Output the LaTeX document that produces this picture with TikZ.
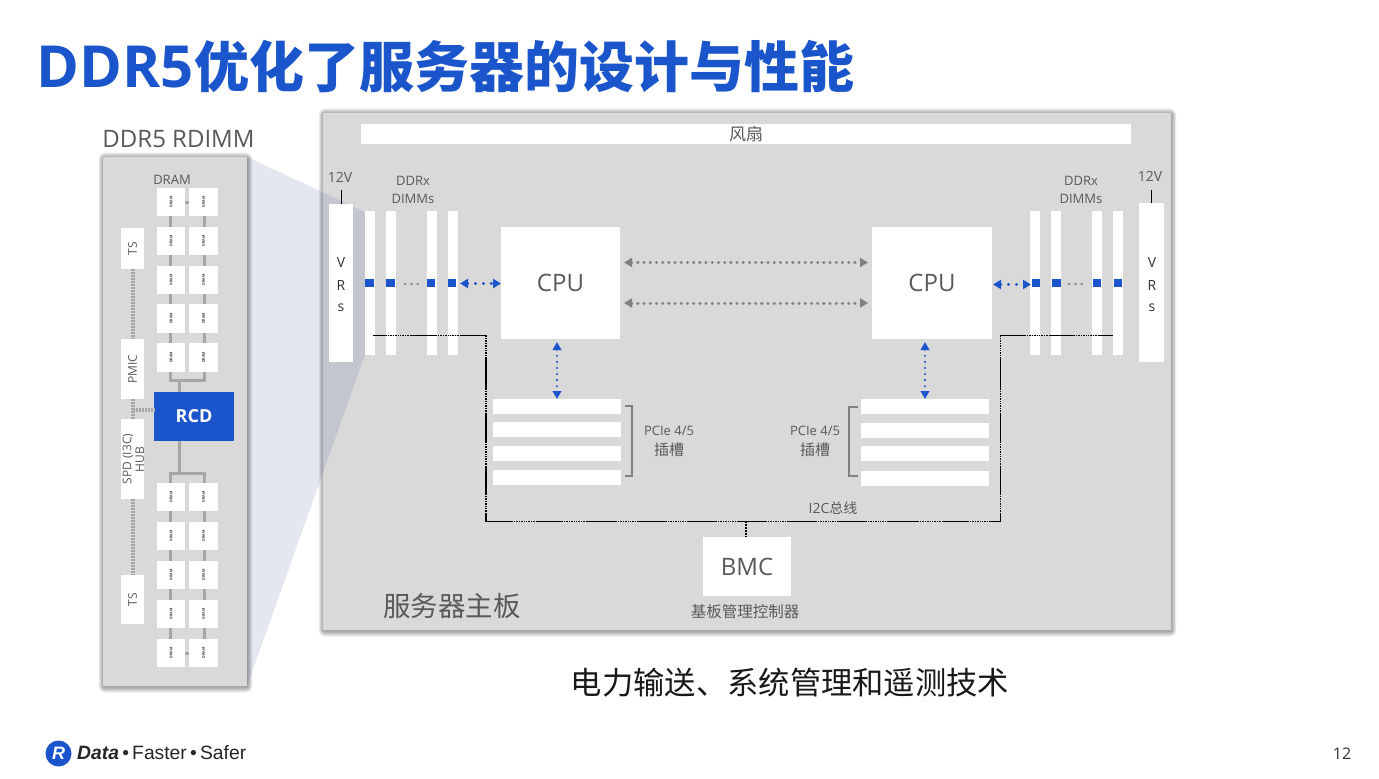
\documentclass[tikz,border=0pt]{standalone}
\usepackage{fontspec}
\setmainfont{Open Sans}
\newfontfamily\cjk{Noto Sans CJK SC}
\newfontfamily\logofont{Liberation Sans}
\usetikzlibrary{arrows.meta}
\definecolor{panel}{HTML}{D9D9D9}
\definecolor{txt}{HTML}{595959}
\definecolor{blu}{HTML}{1B55CB}
\definecolor{lin}{HTML}{A6A6A6}
\definecolor{zoomc}{RGB}{47,70,140}
\tikzset{
  x=1pt,y=-1pt,
  boxs/.style={fill=white,draw=none,inner sep=0pt,outer sep=0pt,text=txt,align=center},
  lab/.style={inner sep=0pt,text=txt,align=center},
  wire/.style={line width=3pt,draw=lin},
  spd/.style={line width=3.6pt,draw=lin,dash pattern=on 2pt off 1pt},
  bus/.style={line width=1.2pt,draw=black},
  busgap/.style={line width=1.4pt,draw=panel,dash pattern=on 1pt off 1.4pt},
  bluearrow/.style={draw=blu,line width=3pt,line cap=round,dash pattern=on .3pt off 7.6pt,
     {Triangle[length=8pt,width=9pt,fill=blu,line cap=butt]}-{Triangle[length=8pt,width=9pt,fill=blu,line cap=butt]}},
  bluev/.style={draw=blu,line width=2.2pt,line cap=round,dash pattern=on .3pt off 5.8pt,
     {Triangle[length=8pt,width=8.5pt,fill=blu,line cap=butt]}-{Triangle[length=8pt,width=8.5pt,fill=blu,line cap=butt]}},
  grayarrow/.style={draw=gray,line width=3pt,line cap=round,dash pattern=on .3pt off 5.9pt,
     {Triangle[length=8pt,width=9pt,fill=gray,line cap=butt]}-{Triangle[length=8pt,width=9pt,fill=gray,line cap=butt]}},
  graydots/.style={draw=gray,line width=2.8pt,line cap=round,dash pattern=on .3pt off 6pt},
  brk/.style={draw=gray,line width=1.1pt},
}
\newcommand{\bx}[7][]{\node[boxs,#1,minimum width={(#5-#3)*1pt},minimum height={(#6-#4)*1pt}] (#2) at ({(#3+#5)/2},{(#4+#6)/2}) {#7};}
\newcommand{\shadowbox}[4]{\foreach \s in {1,...,7}{\fill[black,opacity=.055,rounded corners=\s pt] ({#1-0.7*\s+.5},{#2-0.8*\s+1}) rectangle ({#3+0.7*\s+.5},{#4+0.8*\s+1});}}
\newcommand{\ram}{\rotatebox{90}{\fontsize{3.6}{3.6}\selectfont\bfseries\color{black!75}DRAM}}
\begin{document}
\begin{tikzpicture}
\useasboundingbox (0,0) rectangle (1379,779);
\fill[white] (0,0) rectangle (1379,779);
% title
\node[anchor=west,inner sep=0pt,text=blu] (title) at (36,67) {\bfseries\fontsize{58}{58}\selectfont DDR5};
\node[anchor=west,inner sep=0pt,text=blu] (title2) at (194,67) {\cjk\bfseries\fontsize{55}{55}\selectfont 优化了服务器的设计与性能};
% main panel
\shadowbox{323}{113}{1171}{630}
\fill[panel] (323,113) rectangle (1171,630);
% left panel
\shadowbox{103}{157}{247}{686}
% zoom wedge
\fill[zoomc,fill opacity=.13] (247,157) -- (365,212) -- (365,355) -- (247,686) -- cycle;
\fill[panel] (103,157) rectangle (247,686);
\node[lab] (rdimm) at (178.5,139) {\fontsize{24}{24}\selectfont DDR5 RDIMM};
\node[lab] (dramlab) at (172,179.5) {\fontsize{13}{13}\selectfont DRAM};
% DRAM rows
\foreach \n/\a/\b in {1/188/216,2/227/255,3/266/294,4/304/333,5/343/372,6/483/511,7/522/550,8/561/589,9/600/628,10/639/667}{
  \bx{da\n}{157}{\a}{185}{\b}{\ram}
  \bx{db\n}{189}{\a}{218}{\b}{\ram}
}
\bx[fill=blu,text=white]{rcd}{154}{392}{234}{441}{\fontsize{18}{18}\selectfont\bfseries RCD}
\bx{ts1}{121}{228}{144}{269}{\rotatebox{90}{\fontsize{12}{12}\selectfont TS}}
\bx{pmic}{121}{339}{144}{399}{\rotatebox{90}{\fontsize{12}{12}\selectfont PMIC}}
\bx{spd}{121}{419}{144}{499}{}
\node[lab,rotate=90] (spdt1) at (128,459) {\fontsize{12}{12}\selectfont SPD (I3C)};
\node[lab,rotate=90] (spdt2) at (140,459.5) {\fontsize{12}{12}\selectfont HUB};
\bx{ts2}{121}{575}{144}{624}{\rotatebox{90}{\fontsize{12}{12}\selectfont TS}}
% left panel wires
\foreach \p/\q in {1/2,2/3,3/4,4/5,6/7,7/8,8/9,9/10}{
  \draw[wire] (170.3,0 |- da\p.south) -- (170.3,0 |- da\q.north);
  \draw[wire] (204.3,0 |- db\p.south) -- (204.3,0 |- db\q.north);
}
\draw[wire] (da1.east) -- (db1.west);
\draw[wire] (da10.east) -- (db10.west);
\coordinate (j1) at (179,380);
\coordinate (j2) at (179,473);
\draw[wire] (170.3,372) |- (j1) -| (204.3,372);
\draw[wire] (j1) -- (j1 |- rcd.north);
\draw[wire] (170.3,483) |- (j2) -| (204.3,483);
\draw[wire] (j2) -- (j2 |- rcd.south);
\draw[spd] (132.7,269) -- (132.7,339);
\draw[spd] (132.7,399) -- (132.7,419);
\draw[spd] (132.7,499) -- (132.7,575);
\draw[spd] (132.7,410) -- (rcd.west |- 132.7,410);
% fan
\bx{fan}{361}{124}{1131}{144}{\cjk\fontsize{17}{17}\selectfont 风扇}
% VRs
\bx{vrl}{329}{204}{353}{362}{}
\bx{vrr}{1139}{203}{1164}{362}{}
\foreach \x in {341,1152}{
  \node[lab,text=black!80] at (\x,263) {\fontsize{14}{14}\selectfont V};
  \node[lab,text=black!80] at (\x,285) {\fontsize{14}{14}\selectfont R};
  \node[lab,text=black!80] at (\x,307.5) {\fontsize{14}{14}\selectfont s};
}
\node[lab] (v12l) at (340,177) {\fontsize{14}{14}\selectfont 12V};
\node[lab] (v12r) at (1150,176) {\fontsize{14}{14}\selectfont 12V};
\draw[line width=.8pt] (vrl.north) -- ++(0,-14);
\draw[line width=.8pt] (vrr.north) -- ++(0,-13);
\node[lab,font=\fontsize{13}{18}\selectfont] (dl) at (413,190) {DDRx\\DIMMs};
\node[lab,font=\fontsize{13}{18}\selectfont] (dr) at (1081,190) {DDRx\\DIMMs};
% black bus under the DIMMs
\coordinate (bL) at (373,335.3);
\coordinate (bR) at (1113,335.3);
% DIMMs
\foreach \n/\a/\b in {1/365/375,2/386/396,3/427/437,4/448/458,5/1030/1040,6/1051/1061,7/1092/1102,8/1113/1123}{
  \bx{dm\n}{\a}{211}{\b}{355}{}
}
\foreach \n/\a/\b in {1/365/374,2/386/395,3/427/435,4/448/456,5/1032/1040,6/1052/1061,7/1093/1101,8/1114/1122}{
  \bx[fill=blu]{sq\n}{\a}{279}{\b}{287}{}
}
\draw[graydots] ([xshift=10pt]sq2.east |- 0,284) -- ([xshift=-5pt]sq3.west |- 0,284);
\draw[graydots] ([xshift=8pt]sq6.east |- 0,284) -- ([xshift=-7pt]sq7.west |- 0,284);
% CPU
\bx{cpul}{501}{227}{620}{339}{\fontsize{24}{24}\selectfont CPU}
\bx{cpur}{872}{227}{992}{339}{\fontsize{24}{24}\selectfont CPU}
\draw[bluearrow] ([xshift=4pt]sq4.east |- 0,283.5) -- (cpul.west |- 0,283.5);
\draw[bluearrow] ([xshift=1pt]cpur.east |- 0,284.5) -- ([xshift=-1pt]sq5.west |- 0,284.5);
\draw[grayarrow] ([xshift=4pt]cpul.east |- 0,262.5) -- ([xshift=-4pt]cpur.west |- 0,262.5);
\draw[grayarrow] ([xshift=4pt]cpul.east |- 0,303) -- ([xshift=-4pt]cpur.west |- 0,303);
% PCIe
\foreach \n/\a/\b in {1/399/414,2/422/437,3/446/461,4/470/485}{\bx{pl\n}{493}{\a}{621}{\b}{}}
\foreach \n/\a/\b in {1/399/414,2/423/438,3/446/461,4/471/486}{\bx{pr\n}{861}{\a}{989}{\b}{}}
\draw[bluev] ([yshift=-3pt]cpul.south -| 557,0) -- (pl1.north -| 557,0);
\draw[bluev] ([yshift=-3pt]cpur.south -| 925,0) -- (pr1.north -| 925,0);
\draw[brk] (625,406) -- (632,406) -- (632,476) -- (625,476);
\draw[brk] (858,407) -- (849,407) -- (849,476) -- (858,476);
\node[lab] (pcl) at (669,431) {\fontsize{13}{13}\selectfont PCIe 4/5};
\node[lab] (pcl2) at (669,450) {\cjk\fontsize{15}{15}\selectfont 插槽};
\node[lab] (pcr) at (815,431) {\fontsize{13}{13}\selectfont PCIe 4/5};
\node[lab] (pcr2) at (815,450) {\cjk\fontsize{15}{15}\selectfont 插槽};
% BMC & bus
\bx{bmc}{703}{537}{791}{596}{\fontsize{24}{24}\selectfont BMC}
\coordinate (b1) at (486,521.3);
\coordinate (b2) at (1000.5,521.3);
\coordinate (bj) at (746,521.3);
\draw[bus] (bL) -| (b1) -- (b2) |- (bR);
\draw[bus,dash pattern=on 2pt off 1pt] (bj) -- (bj |- bmc.north);
\foreach \a/\b in {513/535,563/585,617/638,667/688,717/738,767/788,817/838,867/888,919/941,969/990}{
  \draw[busgap] (\a,521.3) -- (\b,521.3);}
\foreach \a/\b in {387/409,437/459,1026/1048,1075/1098}{
  \draw[busgap] (\a,335.3) -- (\b,335.3);}
\foreach \x in {486,1000.5}{
  \draw[busgap] (\x,337) -- (\x,358);
  \draw[busgap] (\x,390) -- (\x,412);
  \draw[busgap] (\x,443) -- (\x,465);
  \draw[busgap] (\x,495) -- (\x,513);
}
\node[lab] (i2c) at (833,508) {\fontsize{14}{14}\selectfont I2C\cjk 总线};
\node[lab] (bmct) at (745,612) {\cjk\fontsize{15.5}{15.5}\selectfont 基板管理控制器};
\node[lab] (board) at (452,606) {\cjk\fontsize{27.5}{27.5}\selectfont 服务器主板};
\node[lab,text=black!90] (power) at (790,683) {\cjk\fontsize{31.3}{31.3}\selectfont 电力输送、系统管理和遥测技术};
% footer
\node[circle,fill=blu,minimum size=26pt,inner sep=0pt,text=white] (logo) at (58.5,753.5) {\logofont\bfseries\itshape\fontsize{18}{18}\selectfont R};
\node[anchor=west,inner sep=0pt,text=black!85] (slogan) at (77,753) {\logofont\fontsize{19.3}{19.3}\selectfont{\bfseries\itshape Data}\,•\,Faster\,•\,Safer};
\node[lab,text=black!80] (page) at (1342,754) {\fontsize{16}{16}\selectfont 12};
\end{tikzpicture}
\end{document}
